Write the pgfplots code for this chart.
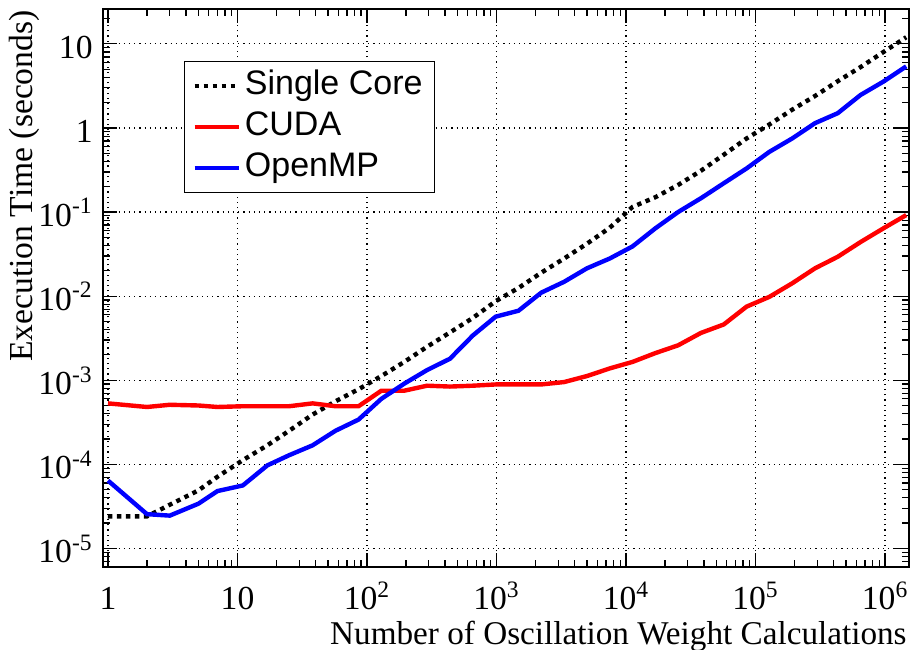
\documentclass[border=0pt]{standalone}
\usepackage{pgfplots}
\usepackage{pgfplotstable}
\pgfplotsset{compat=1.18}
\usepackage{fontspec}
\setmainfont{Liberation Serif}
\newfontfamily\legendfont{Liberation Sans}

% execution times (seconds)
\pgfplotstableread{
x        single   cuda     openmp
1        2.4e-5   5.3e-4   6.4e-5
2        2.4e-5   4.8e-4   2.55e-5
3        3.3e-5   5.1e-4   2.45e-5
5        4.9e-5   5.0e-4   3.4e-5
7        7.1e-5   4.8e-4   4.8e-5
11       1.12e-4  4.9e-4   5.6e-5
17       1.68e-4  4.9e-4   9.7e-5
25       2.5e-4   4.9e-4   1.28e-4
38       3.9e-4   5.3e-4   1.68e-4
57       5.6e-4   4.9e-4   2.5e-4
86       7.8e-4   4.9e-4   3.4e-4
129      1.12e-3  7.5e-4   6.0e-4
194      1.65e-3  7.5e-4   9.1e-4
291      2.5e-3   8.6e-4   1.32e-3
437      3.7e-3   8.4e-4   1.8e-3
656      5.5e-3   8.6e-4   3.4e-3
985      8.7e-3   8.9e-4   5.7e-3
1477     1.25e-2  8.9e-4   6.7e-3
2216     1.9e-2   8.9e-4   1.1e-2
3325     2.8e-2   9.5e-4   1.48e-2
4987     4.2e-2   1.12e-3  2.14e-2
7481     6.5e-2   1.38e-3  2.8e-2
11222    0.115    1.65e-3  3.9e-2
16834    0.15     2.1e-3   6.4e-2
25251    0.21     2.6e-3   0.1
37876    0.31     3.65e-3  0.146
56815    0.48     4.6e-3   0.22
85222    0.75     7.5e-3   0.33
127834   1.1      9.8e-3   0.52
191751   1.65     1.42e-2  0.75
287627   2.4      2.14e-2  1.14
431440   3.6      2.94e-2  1.5
647160   5.3      4.4e-2   2.47
970740   8.0      6.4e-2   3.56
1456110  12.0     9.2e-2   5.4
}\timings

\begin{document}
\begin{tikzpicture}
\begin{axis}[name=ax, scale only axis, width=403pt, height=279pt,
  xmode=log, ymode=log,
  xmin=0.915, xmax=1.53e6, ymin=6e-6, ymax=26,
  axis line style={line width=1pt},
  xtick={1,10,100,1000,10000,100000,1000000},
  xticklabels={1,10,10\textsuperscript{2},10\textsuperscript{3},10\textsuperscript{4},10\textsuperscript{5},10\textsuperscript{6}},
  minor xtick={2,3,4,5,6,7,8,9,20,30,40,50,60,70,80,90,200,300,400,500,600,700,800,900,
    2000,3000,4000,5000,6000,7000,8000,9000,20000,30000,40000,50000,60000,70000,80000,90000,
    200000,300000,400000,500000,600000,700000,800000,900000},
  ytick={1e-5,1e-4,1e-3,1e-2,1e-1,1,10},
  yticklabels={10\textsuperscript{-5},10\textsuperscript{-4},10\textsuperscript{-3},10\textsuperscript{-2},10\textsuperscript{-1},1,10},
  minor ytick={6e-6,7e-6,8e-6,9e-6,2e-5,3e-5,4e-5,5e-5,6e-5,7e-5,8e-5,9e-5,
    2e-4,3e-4,4e-4,5e-4,6e-4,7e-4,8e-4,9e-4,2e-3,3e-3,4e-3,5e-3,6e-3,7e-3,8e-3,9e-3,
    0.02,0.03,0.04,0.05,0.06,0.07,0.08,0.09,0.2,0.3,0.4,0.5,0.6,0.7,0.8,0.9,2,3,4,5,6,7,8,9,20},
  tick align=inside, major tick length=7pt, minor tick length=3.5pt,
  tick style={black, line width=0.6pt},
  grid=major,
  major grid style={black, line width=0.6pt, dash pattern=on 0.6pt off 2pt},
  tick label style={font=\fontsize{16.8}{18}\selectfont},
  xticklabel style={anchor=base, yshift=-21.5pt},
  yticklabel style={anchor=base east, inner sep=0pt, xshift=-5pt, yshift=-7.2pt},
  xlabel={Number of Oscillation Weight Calculations},
  xlabel style={at={([xshift=-1pt,yshift=-39pt]axis description cs:1,0)}, anchor=base east,
    font=\fontsize{16.6}{20}\selectfont, inner sep=0pt},
  ylabel={Execution Time (seconds)},
  ylabel style={at={([xshift=-35pt,yshift=-0.5pt]axis description cs:0,1)}, anchor=base east,
    font=\fontsize{16.8}{20}\selectfont, inner sep=0pt},
  no markers,
  legend style={at={(axis description cs:0.1005,0.907)}, anchor=north west,
    draw=black, line width=0.5pt, font=\legendfont\fontsize{17}{19}\selectfont,
    inner xsep=4pt, inner ysep=2pt, row sep=0pt,
    nodes={text height=12.5pt, text depth=4pt}},
  legend cell align=left,
  legend image code/.code={\draw[#1] (0pt,0pt) -- (22pt,0pt);},
]
\addplot[black, line width=2.2pt, dash pattern=on 2.2pt off 2.3pt] table[x=x, y=single] {\timings};
\addplot[red, line width=2.2pt] table[x=x, y=cuda] {\timings};
\addplot[blue, line width=2.2pt] table[x=x, y=openmp] {\timings};
\legend{Single Core, CUDA, OpenMP}
\end{axis}
\pgfresetboundingbox
\path[use as bounding box] ([shift={(-51.5pt,-41.5pt)}]ax.south west) rectangle ([shift={(0.5pt,4.5pt)}]ax.north east);
\end{tikzpicture}
\end{document}
